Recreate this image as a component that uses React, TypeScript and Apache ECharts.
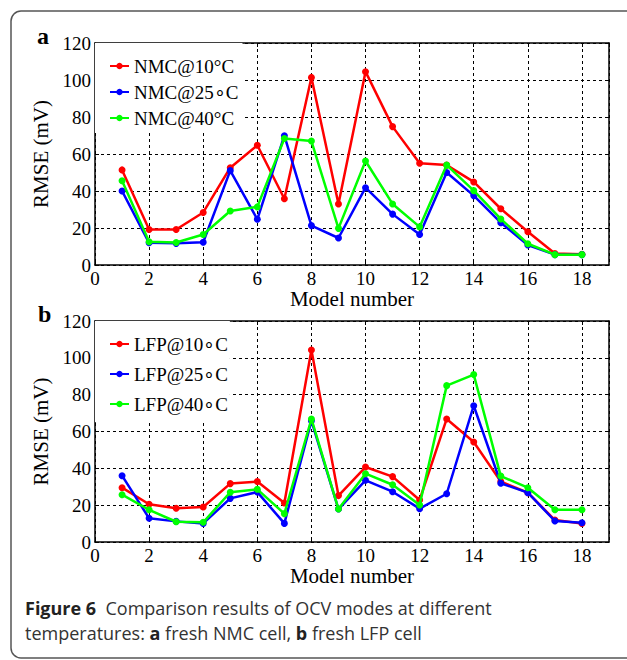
import React, { useEffect, useRef } from "react";
import * as echarts from "echarts";

const models = [1, 2, 3, 4, 5, 6, 7, 8, 9, 10, 11, 12, 13, 14, 15, 16, 17, 18];

const nmcNames = ["NMC@10°C", "NMC@25∘C", "NMC@40°C"];
const nmc10 = [51.4, 19.2, 19.2, 28.4, 52.6, 64.7, 35.8, 101.4, 33, 104.5, 74.8, 55, 54, 44.9, 30.4, 18, 6.2, 5.8];
const nmc25 = [40, 12, 11.7, 12.3, 51, 24.7, 69.9, 21.3, 14.6, 41.8, 27.5, 16.5, 50, 37.5, 22.9, 10.8, 5.6, 5.6];
const nmc40 = [45.5, 12.6, 12.2, 16.5, 29.2, 31.4, 68.4, 67, 19.8, 56.2, 33, 20.6, 54, 40.2, 24.9, 11.5, 5.6, 5.6];

const lfpNames = ["LFP@10∘C", "LFP@25∘C", "LFP@40∘C"];
const lfp10 = [29.5, 20.5, 18.3, 19, 31.7, 32.8, 21.2, 104.3, 25.2, 40.7, 35.5, 22.8, 66.8, 54.3, 32.8, 26.8, 11.9, 10.0];
const lfp25 = [36, 12.9, 11.2, 10.1, 23.7, 27.1, 10.1, 65.8, 17.9, 33.5, 27.3, 18.1, 26.2, 74, 31.9, 26.8, 11.4, 10.5];
const lfp40 = [25.7, 17.5, 11, 10.7, 27, 28.6, 15.4, 66.8, 17.9, 37.1, 31.1, 20.1, 84.9, 90.9, 35.8, 29.5, 17.5, 17.5];

const colors = ["#ff0000", "#0000ff", "#00ff00"];
const serif = "Liberation Serif";
const sans = "Open Sans";

const grids = [
  { left: 95, width: 514, top: 43, height: 222 },
  { left: 95, width: 514, top: 321, height: 221 },
];

function makeSeries(names: string[], sets: number[][], gi: number) {
  return sets.map((vals, i) => ({
    name: names[i],
    type: "line",
    xAxisIndex: gi * 2,
    yAxisIndex: gi * 2,
    data: models.map((m, k) => [m, vals[k]]),
    symbol: "circle",
    symbolSize: 7,
    color: colors[i],
    lineStyle: { width: 2.5, color: colors[i] },
    itemStyle: { color: colors[i] },
    z: 3 + i,
  }));
}

function axesFor(gi: number) {
  const common = {
    gridIndex: gi,
    type: "value",
    axisLine: { show: true, onZero: false, lineStyle: { color: "#000", width: 1.5 } },
    axisTick: { show: true, inside: true, length: 4, lineStyle: { color: "#000", width: 1 } },
  };
  const xMain = {
    ...common,
    position: "bottom",
    min: 0,
    max: 19,
    interval: 2,
    axisLabel: {
      color: "#000",
      fontFamily: serif,
      fontSize: 19,
      margin: 4,
      showMaxLabel: false,
      formatter: (v: number) => (v === 19 ? "" : String(v)),
    },
    splitLine: { show: true, lineStyle: { color: "#000", type: [3, 3], width: 1 } },
    name: "Model number",
    nameLocation: "middle",
    nameGap: 20,
    nameTextStyle: { color: "#000", fontFamily: serif, fontSize: 21 },
  };
  const xTop = {
    ...common,
    position: "top",
    min: 0,
    max: 19,
    interval: 2,
    axisLabel: { show: false },
    splitLine: { show: false },
  };
  const yMain = {
    ...common,
    position: "left",
    min: 0,
    max: 120,
    interval: 20,
    axisLabel: { color: "#000", fontFamily: serif, fontSize: 19, margin: 4 },
    splitLine: { show: true, lineStyle: { color: "#000", type: [3, 3], width: 1 } },
    name: "RMSE (mV)",
    nameLocation: "middle",
    nameGap: 37,
    nameTextStyle: { color: "#000", fontFamily: serif, fontSize: 21 },
  };
  const yRight = {
    ...common,
    position: "right",
    min: 0,
    max: 120,
    interval: 20,
    axisLabel: { show: false },
    splitLine: { show: false },
  };
  return { x: [xMain, xTop], y: [yMain, yRight] };
}

export default function App() {
  const ref = useRef<HTMLDivElement>(null);
  useEffect(() => {
    document.body.style.margin = "0";
    const chart = echarts.init(ref.current!, null, { renderer: "svg" });
    const a0 = axesFor(0);
    const a1 = axesFor(1);
    const legendText = { color: "#000", fontFamily: serif, fontSize: 19, lineHeight: 20 };
    chart.setOption({
      animation: false,
      backgroundColor: "#fff",
      grid: grids,
      xAxis: [...a0.x, ...a1.x],
      yAxis: [...a0.y, ...a1.y],
      legend: [
        {
          data: nmcNames,
          orient: "vertical",
          left: 95,
          top: 43,
          itemWidth: 19,
          itemHeight: 8,
          itemGap: 6,
          padding: [13, 4, 5, 14],
          backgroundColor: "#fff",
          textStyle: legendText,
          selectedMode: false,
        },
        {
          data: lfpNames,
          orient: "vertical",
          left: 95,
          top: 321,
          itemWidth: 19,
          itemHeight: 8,
          itemGap: 10,
          padding: [13, 2, 8, 14],
          backgroundColor: "#fff",
          textStyle: legendText,
          selectedMode: false,
        },
      ],
      series: [
        ...makeSeries(nmcNames, [nmc10, nmc25, nmc40], 0),
        ...makeSeries(lfpNames, [lfp10, lfp25, lfp40], 1),
      ],
      graphic: [
        {
          type: "rect",
          shape: { x: 11, y: 11, width: 640, height: 647, r: 10 },
          style: { fill: "none", stroke: "#555", lineWidth: 1.5 },
          z: 0,
        },
        {
          type: "text",
          x: 37,
          y: 48,
          style: { text: "a", fontFamily: serif, fontWeight: "bold", fontSize: 24, fill: "#000", verticalAlign: "bottom" },
        },
        {
          type: "text",
          x: 38,
          y: 326,
          style: { text: "b", fontFamily: serif, fontWeight: "bold", fontSize: 24, fill: "#000", verticalAlign: "bottom" },
        },
        {
          type: "text",
          x: 25,
          y: 595.5,
          style: {
            text:
              "{b|Figure 6}{n|  Comparison results of OCV modes at different}\n{n|temperatures: }{b|a}{n| fresh NMC cell, }{b|b}{n| fresh LFP cell}",
            verticalAlign: "top",
            rich: {
              b: { fontFamily: sans, fontWeight: "bold", fontSize: 18, fill: "#222", lineHeight: 25 },
              n: { fontFamily: sans, fontSize: 18, fill: "#333", lineHeight: 25 },
            },
          },
        },
      ],
    });
    return () => chart.dispose();
  }, []);
  return <div ref={ref} style={{ width: 627, height: 660 }} />;
}
